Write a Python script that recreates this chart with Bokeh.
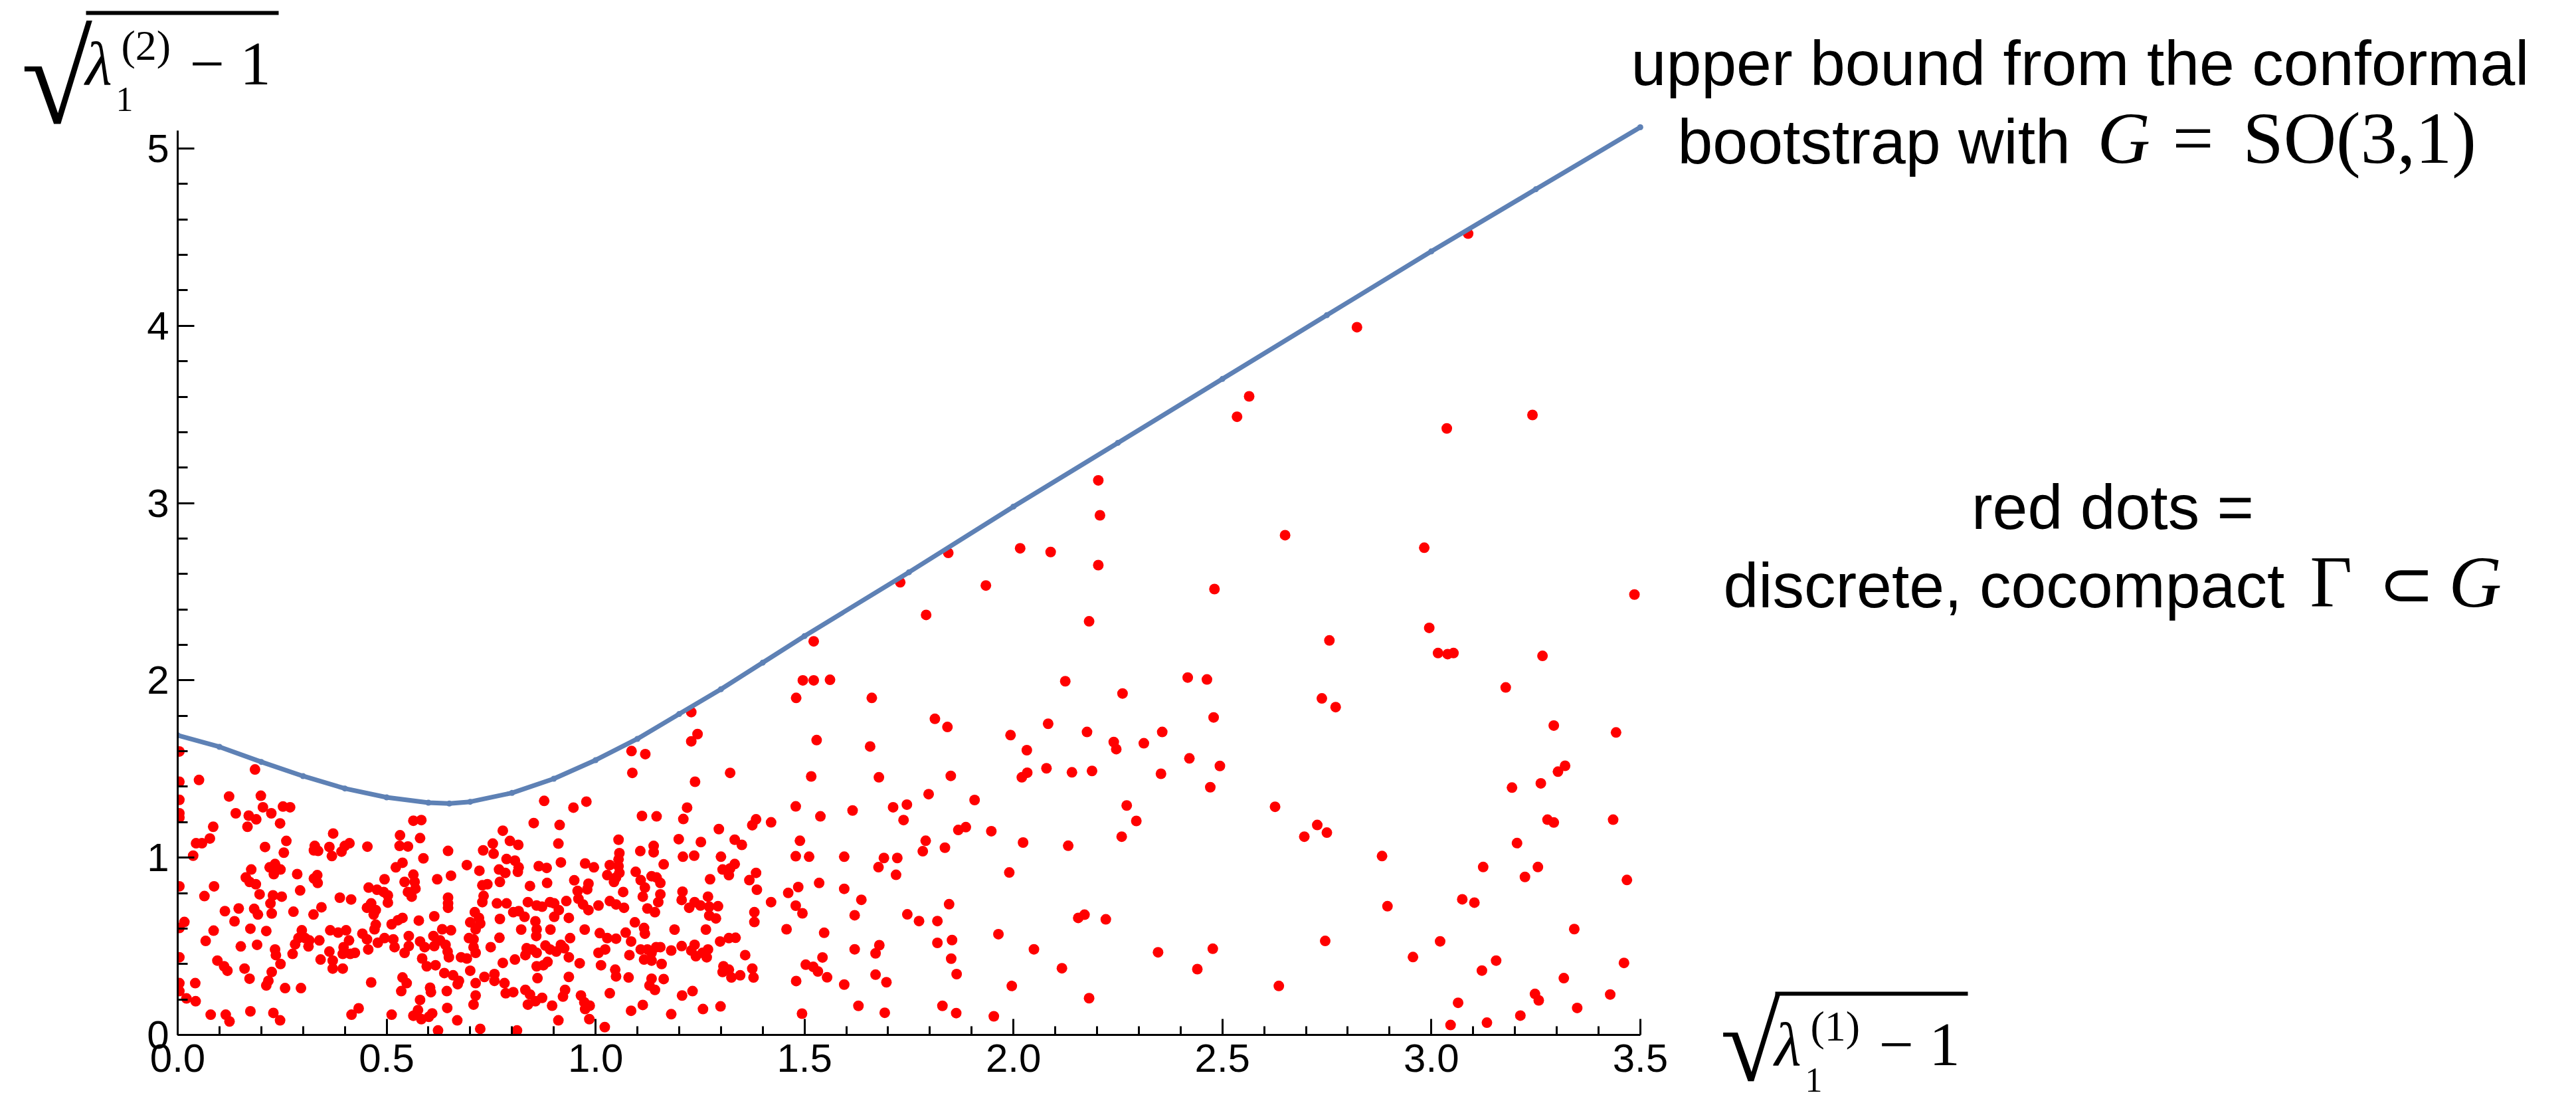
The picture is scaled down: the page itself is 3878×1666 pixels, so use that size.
from bokeh.plotting import figure
from bokeh.models import Label, BoxAnnotation, FixedTicker, Range1d, PrintfTickFormatter
from bokeh.embed import file_html
from bokeh.resources import INLINE

# ---------------- data ----------------
bound_x = [0.0, 0.1, 0.2, 0.3, 0.4, 0.5, 0.6, 0.65, 0.7, 0.8, 0.9, 1.0, 1.1, 1.2, 1.3,
           1.4, 1.5, 1.75, 2.0, 2.25, 2.5, 2.75, 3.0, 3.25, 3.5]
bound_y = [1.69, 1.625, 1.54, 1.46, 1.39, 1.34, 1.31, 1.305, 1.315, 1.365, 1.445, 1.55, 1.67, 1.81, 1.95,
           2.10, 2.25, 2.61, 2.98, 3.34, 3.70, 4.06, 4.42, 4.77, 5.12]

dots = [
    # x in [0, 0.69]
    (0.185,1.497),(0.051,1.438),(0.004,1.599),(0.004,1.428),(0.004,1.326),(0.004,1.250),(0.004,1.225),
    (0.123,1.345),(0.199,1.349),(0.204,1.284),(0.224,1.250),(0.252,1.288),(0.269,1.284),(0.139,1.250),
    (0.170,1.237),(0.188,1.216),(0.167,1.174),(0.245,1.193),(0.085,1.174),(0.077,1.108),(0.058,1.081),(0.044,1.081),
    (0.260,1.094),(0.209,1.060),(0.254,1.028),(0.037,1.011),(0.372,1.136),(0.328,1.066),(0.336,1.038),(0.326,1.041),
    (0.363,1.060),(0.369,1.009),(0.392,1.034),(0.411,1.081),(0.400,1.066),(0.454,1.062),(0.532,1.126),(0.531,1.066),(0.551,1.063),
    (0.564,1.208),(0.583,1.212),(0.580,1.110),(0.588,0.996),(0.647,1.038),
    (0.233,0.964),(0.220,0.945),(0.246,0.933),(0.230,0.907),(0.176,0.933),(0.163,0.888),(0.172,0.863),(0.187,0.850),
    (0.286,0.907),(0.334,0.901),(0.326,0.882),(0.335,0.857),(0.522,0.945),(0.538,0.971),(0.495,0.878),
    (0.564,0.904),(0.543,0.863),(0.567,0.863),(0.569,0.825),(0.551,0.806),(0.560,0.780),(0.621,0.878),(0.654,0.898),
    (0.004,0.838),(0.087,0.838),(0.064,0.783),(0.196,0.793),(0.228,0.787),(0.249,0.780),(0.222,0.742),(0.293,0.815),
    (0.388,0.774),(0.415,0.764),(0.457,0.831),(0.477,0.819),(0.493,0.806),(0.503,0.787),(0.503,0.746),(0.463,0.742),
    (0.453,0.717),(0.474,0.704),(0.647,0.774),(0.647,0.742),(0.647,0.717),
    (0.113,0.698),(0.146,0.713),(0.183,0.711),(0.192,0.679),(0.225,0.685),(0.277,0.695),(0.325,0.679),(0.344,0.720),
    (0.469,0.679),(0.474,0.622),(0.471,0.596),(0.538,0.660),(0.527,0.647),(0.512,0.624),(0.577,0.645),(0.614,0.669),
    (0.016,0.637),(0.004,0.603),(0.136,0.641),(0.086,0.588),(0.067,0.530),(0.174,0.599),(0.212,0.586),(0.151,0.499),(0.190,0.508),
    (0.297,0.590),(0.289,0.546),(0.305,0.546),(0.315,0.533),(0.281,0.511),(0.313,0.499),(0.339,0.533),(0.233,0.482),
    (0.235,0.450),(0.275,0.457),
    (0.365,0.590),(0.384,0.577),(0.403,0.590),(0.410,0.533),(0.397,0.495),(0.413,0.457),(0.424,0.463),(0.395,0.457),(0.363,0.470),
    (0.442,0.571),(0.453,0.539),(0.456,0.482),(0.479,0.520),(0.495,0.546),(0.516,0.539),(0.519,0.495),
    (0.553,0.558),(0.553,0.501),(0.543,0.463),(0.580,0.527),(0.591,0.495),(0.585,0.431),(0.596,0.387),(0.617,0.393),
    (0.612,0.558),(0.633,0.596),(0.654,0.590),(0.628,0.533),(0.641,0.508),(0.614,0.501),(0.646,0.470),(0.649,0.438),(0.678,0.438),
    (0.095,0.419),(0.111,0.387),(0.119,0.362),(0.160,0.374),(0.172,0.317),(0.246,0.400),(0.225,0.355),(0.217,0.305),(0.212,0.279),
    (0.342,0.425),(0.371,0.419),(0.371,0.374),(0.395,0.374),(0.004,0.438),(0.042,0.292),(0.004,0.292),(0.004,0.247),
    (0.257,0.264),(0.295,0.264),(0.463,0.296),(0.538,0.324),(0.548,0.292),(0.535,0.247),(0.604,0.266),(0.606,0.241),
    (0.638,0.349),(0.659,0.336),(0.673,0.305),(0.670,0.286),(0.644,0.247),(0.021,0.206),(0.043,0.190),
    (0.580,0.197),(0.575,0.140),(0.564,0.108),(0.583,0.089),(0.601,0.102),(0.609,0.121),(0.645,0.152),
    (0.079,0.114),(0.115,0.114),(0.124,0.076),(0.174,0.133),(0.229,0.124),(0.245,0.082),(0.416,0.114),(0.433,0.150),
    (0.512,0.114),(0.669,0.082),(0.623,0.025),
    # x in [0.69, 1.42]
    (1.229,1.821),(1.244,1.697),(1.229,1.656),(1.086,1.601),(1.119,1.584),(1.088,1.478),(1.322,1.478),(1.238,1.428),
    (0.877,1.320),(0.947,1.282),(0.978,1.316),(1.219,1.282),(1.210,1.218),(1.111,1.235),(1.146,1.233),(0.852,1.195),(0.914,1.184),
    (0.778,1.152),(1.295,1.161),(1.375,1.183),(1.384,1.216),(1.420,1.199),(1.055,1.101),(1.199,1.104),(1.252,1.088),(1.333,1.101),
    (1.350,1.072),(0.911,1.079),(0.754,1.079),(0.731,1.041),(0.756,1.022),(0.795,1.094),(0.815,1.072),(1.139,1.066),(1.139,1.030),
    (1.107,1.037),(1.057,1.025),(1.055,0.990),(1.055,0.952),(1.057,0.914),(1.049,0.888),(1.209,1.005),(1.236,1.011),(1.300,1.005),
    (1.333,0.964),(1.322,0.939),(1.304,0.933),(1.319,0.901),(1.163,0.962),(0.787,0.992),(0.807,0.983),(0.816,0.945),(0.814,0.920),
    (0.692,0.958),(0.722,0.926),(0.769,0.933),(0.784,0.914),(0.771,0.863),(0.864,0.952),(0.883,0.942),(0.884,0.857),(0.917,0.973),
    (0.975,0.967),(0.996,0.945),(1.034,0.958),(1.028,0.901),(1.044,0.863),(1.096,0.920),(1.108,0.873),
    (1.134,0.895),(1.146,0.888),(1.155,0.857),(1.155,0.793),(1.150,0.749),(1.142,0.692),(1.124,0.713),(1.113,0.780),(1.118,0.831),
    (1.274,0.878),(1.368,0.873),(1.384,0.914),(1.386,0.819),(1.420,0.749),
    (0.729,0.844),(0.741,0.850),(0.732,0.784),(0.729,0.749),(0.711,0.692),(0.721,0.660),(0.724,0.628),(0.700,0.635),(0.713,0.596),
    (0.697,0.546),(0.708,0.539),(0.708,0.495),(0.713,0.463),(0.843,0.840),(0.949,0.872),(0.983,0.853),(0.980,0.821),(0.957,0.812),
    (0.959,0.768),(0.970,0.736),(0.983,0.704),(1.066,0.806),(0.764,0.742),(0.787,0.742),(0.803,0.692),(0.830,0.666),(0.816,0.698),
    (0.838,0.749),(0.859,0.730),(0.872,0.723),(0.891,0.749),(0.901,0.742),(0.912,0.704),(0.901,0.666),(0.930,0.755),
    (1.007,0.730),(1.034,0.755),(1.049,0.736),(1.068,0.717),(1.208,0.808),(1.206,0.761),(1.224,0.717),(1.237,0.749),(1.251,0.730),
    (1.269,0.780),(1.272,0.723),(1.293,0.726),(1.272,0.673),(1.288,0.657),(1.380,0.692),(1.380,0.637),
    (0.771,0.654),(0.856,0.641),(0.859,0.596),(0.858,0.558),(0.936,0.660),(1.094,0.635),(1.116,0.603),(1.118,0.571),
    (0.822,0.594),(0.892,0.594),(0.974,0.594),(1.072,0.577),(1.189,0.594),(1.264,0.594),(0.770,0.548),(0.939,0.546),
    (1.010,0.574),(1.028,0.546),(1.049,0.543),(0.749,0.495),(0.835,0.489),(0.848,0.482),(0.859,0.463),(0.832,0.450),
    (0.880,0.504),(0.891,0.482),(0.906,0.470),(0.917,0.508),(0.925,0.489),(0.936,0.438),(1.007,0.463),(1.023,0.482),
    (1.085,0.527),(1.108,0.482),(1.124,0.482),(1.145,0.495),(1.155,0.495),(1.134,0.463),(1.116,0.425),(1.134,0.419),(1.081,0.450),
    (1.181,0.476),(1.206,0.501),(1.229,0.476),(1.237,0.508),(1.240,0.444),(1.256,0.463),(1.269,0.482),(1.266,0.438),
    (1.298,0.527),(1.319,0.546),(1.335,0.548),(1.358,0.450),(0.692,0.431),(0.778,0.406),(0.807,0.425),(0.875,0.393),
    (0.885,0.412),(0.859,0.387),(0.962,0.404),(1.013,0.393),(1.158,0.400),(1.047,0.368),(1.049,0.330),(1.079,0.324),
    (1.134,0.317),(1.129,0.279),(1.142,0.254),(1.163,0.315),
    (1.306,0.387),(1.319,0.368),(1.304,0.355),(1.325,0.324),(1.346,0.336),(1.375,0.374),(1.378,0.324),
    (0.700,0.362),(0.713,0.292),(0.734,0.327),(0.758,0.343),(0.758,0.305),(0.782,0.292),(0.785,0.235),(0.803,0.241),
    (0.861,0.320),(0.936,0.327),(0.832,0.254),(0.843,0.228),(0.838,0.171),(0.856,0.190),(0.872,0.209),(0.927,0.254),(0.922,0.216),
    (0.965,0.222),(0.973,0.184),(0.986,0.165),(0.975,0.146),(1.034,0.235),(1.207,0.222),(1.232,0.247),(0.713,0.222),(0.708,0.171),
    (0.896,0.165),(1.113,0.169),(1.085,0.136),(1.257,0.146),(1.299,0.161),(1.181,0.117),(0.911,0.082),(0.985,0.089),
    (0.724,0.034),(0.812,0.025),(1.022,0.044),
    # x in [1.42, 2.78]
    (2.564,3.602),(2.535,3.487),(2.203,3.128),(2.207,2.931),(2.203,2.650),(2.650,2.819),(1.844,2.719),(1.729,2.553),
    (2.016,2.745),(2.089,2.724),(1.934,2.535),(2.481,2.515),(1.791,2.369),(2.181,2.333),(2.756,2.225),(1.522,2.220),
    (1.496,2.000),(1.522,2.000),(1.561,2.003),(1.480,1.901),(1.661,1.901),(2.124,1.995),(2.417,2.016),(2.463,2.005),(2.261,1.926),
    (2.738,1.898),(2.771,1.849),(2.479,1.791),(1.812,1.783),(1.842,1.737),(2.083,1.755),(1.993,1.691),(2.176,1.709),(2.356,1.709),
    (1.529,1.663),(1.657,1.627),(2.032,1.606),(2.240,1.652),(2.246,1.612),(2.312,1.645),(2.421,1.560),(1.516,1.458),(1.678,1.453),
    (1.850,1.461),(2.079,1.504),(2.140,1.481),(2.188,1.489),(2.020,1.453),(2.033,1.479),(2.353,1.473),(2.494,1.517),(2.471,1.397),
    (1.797,1.358),(1.907,1.325),(2.271,1.294),(2.294,1.207),(2.626,1.287),(1.479,1.289),(1.712,1.284),(1.745,1.299),(1.615,1.266),
    (1.538,1.233),(1.737,1.212),(1.868,1.156),(1.886,1.172),(1.947,1.149),(2.727,1.184),(2.750,1.141),(2.696,1.118),
    (2.259,1.118),(1.489,1.095),(1.790,1.095),(1.783,1.036),(2.023,1.085),(1.836,1.056),(2.131,1.067),(1.479,1.008),(1.511,1.005),
    (1.595,1.005),(1.690,0.998),(1.722,0.998),(1.677,0.946),(1.719,0.903),(1.990,0.916),(1.535,0.857),(1.485,0.834),(1.595,0.824),
    (1.461,0.801),(1.636,0.762),(1.479,0.729),(1.495,0.686),(1.846,0.737),(1.620,0.675),(1.746,0.680),(1.774,0.642),(1.818,0.642),
    (2.155,0.660),(2.170,0.678),(2.221,0.652),(1.457,0.596),(1.547,0.576),(1.964,0.568),(1.679,0.506),(1.670,0.460),(1.620,0.483),
    (1.818,0.519),(1.853,0.535),(2.049,0.483),(2.346,0.466),(2.477,0.486),(2.746,0.530),(1.543,0.437),(1.851,0.430),
    (1.503,0.396),(1.521,0.384),(1.532,0.358),(2.116,0.376),(2.440,0.371),(1.554,0.325),(1.480,0.304),(1.670,0.340),(1.696,0.297),
    (1.864,0.343),(1.595,0.284),(1.996,0.276),(2.635,0.276),(2.181,0.207),(1.629,0.164),(1.830,0.164),(1.494,0.120),(1.692,0.125),
    (1.863,0.123),(1.953,0.105),
    # x in [2.78, 3.5]
    (3.088,4.520),(2.822,3.992),(3.037,3.421),(3.242,3.497),(2.983,2.748),(3.486,2.484),(2.995,2.296),(3.016,2.154),
    (3.039,2.148),(3.053,2.154),(3.266,2.138),(3.178,1.960),(3.293,1.745),(3.442,1.706),(3.320,1.518),(3.303,1.485),(3.193,1.395),
    (3.262,1.419),(3.278,1.214),(3.293,1.198),(3.435,1.214),(3.205,1.082),(2.882,1.009),(3.124,0.947),(3.255,0.947),(3.224,0.891),
    (3.468,0.874),(2.895,0.726),(3.074,0.765),(3.103,0.746),(3.342,0.597),(3.021,0.528),(2.956,0.439),(3.155,0.419),(3.461,0.406),
    (3.121,0.363),(3.317,0.320),(3.248,0.231),(3.257,0.195),(3.428,0.228),(3.064,0.181),(3.349,0.152),(3.213,0.109),(3.046,0.056),
    (3.133,0.069),
]
dots_x = [d[0] for d in dots]
dots_y = [d[1] for d in dots]

x_major = [0.0, 0.5, 1.0, 1.5, 2.0, 2.5, 3.0, 3.5]
x_minor = [0.1, 0.2, 0.3, 0.4, 0.6, 0.7, 0.8, 0.9, 1.1, 1.2, 1.3, 1.4, 1.6, 1.7, 1.8, 1.9,
           2.1, 2.2, 2.3, 2.4, 2.6, 2.7, 2.8, 2.9, 3.1, 3.2, 3.3, 3.4]
y_major = [0, 1, 2, 3, 4, 5]
y_minor = [0.2, 0.4, 0.6, 0.8, 1.2, 1.4, 1.6, 1.8, 2.2, 2.4, 2.6, 2.8, 3.2, 3.4, 3.6, 3.8,
           4.2, 4.4, 4.6, 4.8]

# ---------------- layout ----------------
W, H = 3876, 1664
X0, Y0 = 267, 1557             # page pixel of the data origin
SX, SY = 629.1, 266.8          # pixels per data unit

def px(X):   # page pixel -> data x
    return (X - X0) / SX

def py(Y):   # page pixel -> data y
    return (Y0 - Y) / SY

p = figure(width=W, height=H, output_backend="svg", toolbar_location=None,
           x_range=Range1d(px(0), px(W)), y_range=Range1d(py(H), py(0)),
           min_border_left=0, min_border_right=0, min_border_top=0, min_border_bottom=0)
p.outline_line_color = None
p.grid.visible = False
p.background_fill_color = "white"
p.border_fill_color = "white"

for ax, maj, mnr, fmt, bnd, tin, mtin, so in (
        (p.xaxis[0], x_major, x_minor, "%.1f", (0, 3.5), 24, 13, 14),
        (p.yaxis[0], y_major, y_minor, "%d", (0, 5.1), 25, 15, 13)):
    ax.fixed_location = 0
    ax.ticker = FixedTicker(ticks=maj, minor_ticks=mnr)
    ax.formatter = PrintfTickFormatter(format=fmt)
    ax.bounds = bnd
    ax.axis_line_width = 3
    ax.axis_line_color = "black"
    ax.major_tick_line_width = 3
    ax.minor_tick_line_width = 3
    ax.major_tick_line_color = "black"
    ax.minor_tick_line_color = "black"
    ax.major_tick_in = tin
    ax.major_tick_out = 0
    ax.minor_tick_in = mtin
    ax.minor_tick_out = 0
    ax.major_label_standoff = so
    ax.major_label_text_font = "Liberation Sans"
    ax.major_label_text_font_size = "60px"
    ax.major_label_text_color = "black"

p.scatter(dots_x, dots_y, size=16, color="#ff0000", line_color=None)
p.line(bound_x, bound_y, line_color="#5e81b5", line_width=7)
p.scatter(bound_x, bound_y, size=9, color="#5e81b5", line_color=None)

# clip marks at the plot range (x < 0, y < 0), like the original
p.add_layout(BoxAnnotation(right=0, fill_color="white", fill_alpha=1.0, line_color=None, level="glyph"))
p.add_layout(BoxAnnotation(top=0, fill_color="white", fill_alpha=1.0, line_color=None, level="glyph"))

SANS, SERIF = "Liberation Sans", "Liberation Serif"

def txt(t, X, B, size, font=SANS, style="normal", align="left"):
    # B: page pixel of the text baseline
    p.add_layout(Label(x=px(X), y=py(B - 0.34 * size), text=t, text_font=font,
                       text_font_size=f"{size}px", text_font_style=style, text_align=align,
                       text_baseline="middle", text_color="black"))

def bar(X_0, X_1, Y_0, Y_1):
    p.add_layout(BoxAnnotation(left=px(X_0), right=px(X_1), top=py(Y_0), bottom=py(Y_1),
                               fill_color="black", fill_alpha=1.0, line_color=None))

# annotation texts
txt("upper bound from the conformal", 3131, 127, 95, align="center")
txt("bootstrap with", 2525, 245, 95)
txt("G", 3157, 245, 110, SERIF, "italic")
txt("=", 3270, 245, 110, SERIF)
txt("SO(3,1)", 3376, 245, 110, SERIF)

txt("red dots =", 3180, 795, 95, align="center")
txt("discrete, cocompact", 2594, 913, 95)
txt("Γ", 3477, 913, 110, SERIF)
txt("⊂", 3580, 913, 100, SERIF)
txt("G", 3686, 913, 110, SERIF, "italic")

# axis titles: sqrt(lambda_1^(k) - 1)
def radical_title(L, B, k, rsize, rbase):
    txt("√", L - 3 - 0.5 * rsize, rbase, rsize, SERIF)
    bar(L - 3, L + 287, B - 111, B - 105)
    txt("λ", L - 4, B, 93, SERIF, "italic")
    txt(f"({k})", L + 50, B - 37, 64, SERIF)
    txt("1", L + 42, B + 40, 52, SERIF)
    txt("− 1", L + 153, B, 93, SERIF)

radical_title(132, 127, 2, 195, 185)
radical_title(2675, 1603, 1, 165, 1626)

open("out.html", "w").write(file_html(p, INLINE))
